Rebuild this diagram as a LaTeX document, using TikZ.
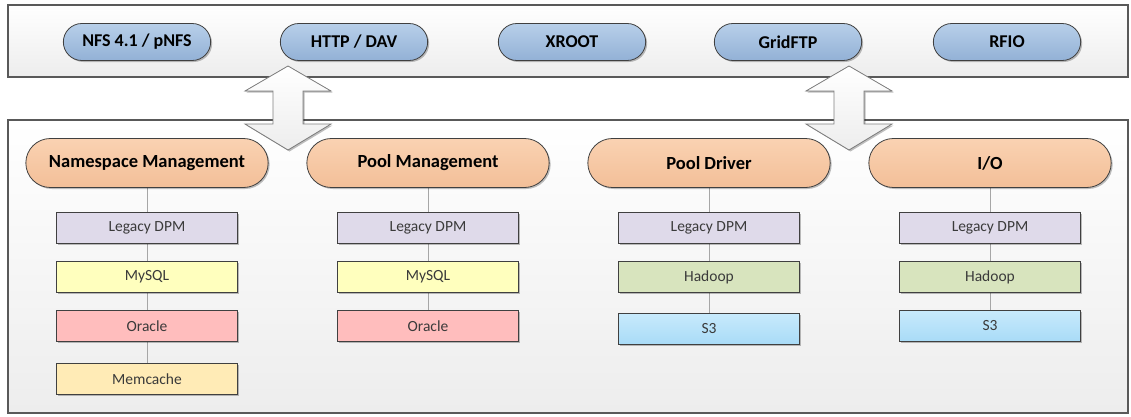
\documentclass[tikz,border=0pt]{standalone}
\usepackage{fontspec}
\setmainfont{Carlito}
\usetikzlibrary{shapes.misc,shadows}

\definecolor{panelline}{HTML}{595959}
\definecolor{panelgray}{HTML}{EDEDED}
\definecolor{pillline}{HTML}{404040}
\definecolor{blueA}{HTML}{B8CFE9}
\definecolor{blueB}{HTML}{92B1D6}
\definecolor{orangeA}{HTML}{FAD2B2}
\definecolor{orangeB}{HTML}{F3BF98}
\definecolor{legacyfill}{HTML}{DFDAEA}
\definecolor{mysqlfill}{HTML}{FFFFBE}
\definecolor{oraclefill}{HTML}{FFBDBD}
\definecolor{memfill}{HTML}{FFEBB6}
\definecolor{hadoopfill}{HTML}{D8E4BE}
\definecolor{sthreeA}{HTML}{C7EAFC}
\definecolor{sthreeB}{HTML}{A9DBF7}
\definecolor{linkgray}{HTML}{A6A6A6}
\definecolor{impltext}{HTML}{3A3A3A}

\tikzset{
  softshadow/.style={drop shadow={shadow xshift=1.5pt,shadow yshift=-1.5pt,opacity=0.25,fill=black}},
  panel/.style={draw=panelline,line width=1.2pt,top color=white,bottom color=panelgray},
  proto/.style={rounded rectangle,draw=pillline,line width=0.8pt,minimum width=154pt,minimum height=37pt,
    top color=blueA,bottom color=blueB,font=\bfseries\fontsize{18}{21}\selectfont,softshadow},
  layer/.style={rounded rectangle,draw=pillline,line width=0.8pt,minimum width=249pt,minimum height=49pt,
    top color=orangeA,bottom color=orangeB,font=\bfseries\fontsize{18.5}{22}\selectfont,softshadow},
  impl/.style={rectangle,draw=pillline,line width=0.8pt,minimum width=181pt,minimum height=31pt,
    text=impltext,font=\fontsize{15.5}{18}\selectfont,softshadow},
  link/.style={draw=linkgray,line width=0.8pt},
  bigarrow/.style={draw=gray,line width=0.8pt,top color=white,bottom color=panelgray,softshadow}
}

\begin{document}
\begin{tikzpicture}[x=1pt,y=-1pt]
\useasboundingbox (0,0) rectangle (1131,416);

% panels
\filldraw[panel] (8,5) rectangle (1128,77);
\filldraw[panel] (8,120) rectangle (1128,413);

% protocols
\node[proto] (nfs) at (137,42) {NFS 4.1 / pNFS};
\node[proto] (http) at (354,42) {HTTP / DAV};
\node[proto] (xroot) at (572,42) {XROOT};
\node[proto] (gridftp) at (788,42) {GridFTP};
\node[proto] (rfio) at (1007,42) {RFIO};

% connectors behind the boxes
\draw[link] (147,163) -- (147,379);
\draw[link] (428,163) -- (428,326);
\draw[link] (709,163) -- (709,329);
\draw[link] (990,163) -- (990,326);

% layers
\node[layer] (ns) at (147,163) {Namespace Management};
\node[layer] (pool) at (428,163) {Pool Management};
\node[layer] (drv) at (709,163) {Pool Driver};
\node[layer] (io) at (990,163) {I/O};

% namespace column
\node[impl,fill=legacyfill] (ns1) at (147,228) {Legacy DPM};
\node[impl,fill=mysqlfill] (ns2) at (147,277) {MySQL};
\node[impl,fill=oraclefill] (ns3) at (147,326) {Oracle};
\node[impl,fill=memfill] (ns4) at (147,379) {Memcache};

% pool column
\node[impl,fill=legacyfill] (pool1) at (428,228) {Legacy DPM};
\node[impl,fill=mysqlfill] (pool2) at (428,277) {MySQL};
\node[impl,fill=oraclefill] (pool3) at (428,326) {Oracle};

% driver column
\node[impl,fill=legacyfill] (drv1) at (709,228) {Legacy DPM};
\node[impl,fill=hadoopfill] (drv2) at (709,277) {Hadoop};
\node[impl,top color=sthreeA,bottom color=sthreeB] (drv3) at (709,329) {S3};

% io column
\node[impl,fill=legacyfill] (io1) at (990,228) {Legacy DPM};
\node[impl,fill=hadoopfill] (io2) at (990,277) {Hadoop};
\node[impl,top color=sthreeA,bottom color=sthreeB] (io3) at (990,326) {S3};

% double arrows
\filldraw[bigarrow] (288,66) -- (331,91) -- (303,91) -- (303,124) -- (331,124) -- (288,150)
  -- (245,124) -- (273,124) -- (273,91) -- (245,91) -- cycle;
\filldraw[bigarrow] (849,66) -- (892,91) -- (864,91) -- (864,124) -- (892,124) -- (849,150)
  -- (806,124) -- (834,124) -- (834,91) -- (806,91) -- cycle;
\end{tikzpicture}
\end{document}
